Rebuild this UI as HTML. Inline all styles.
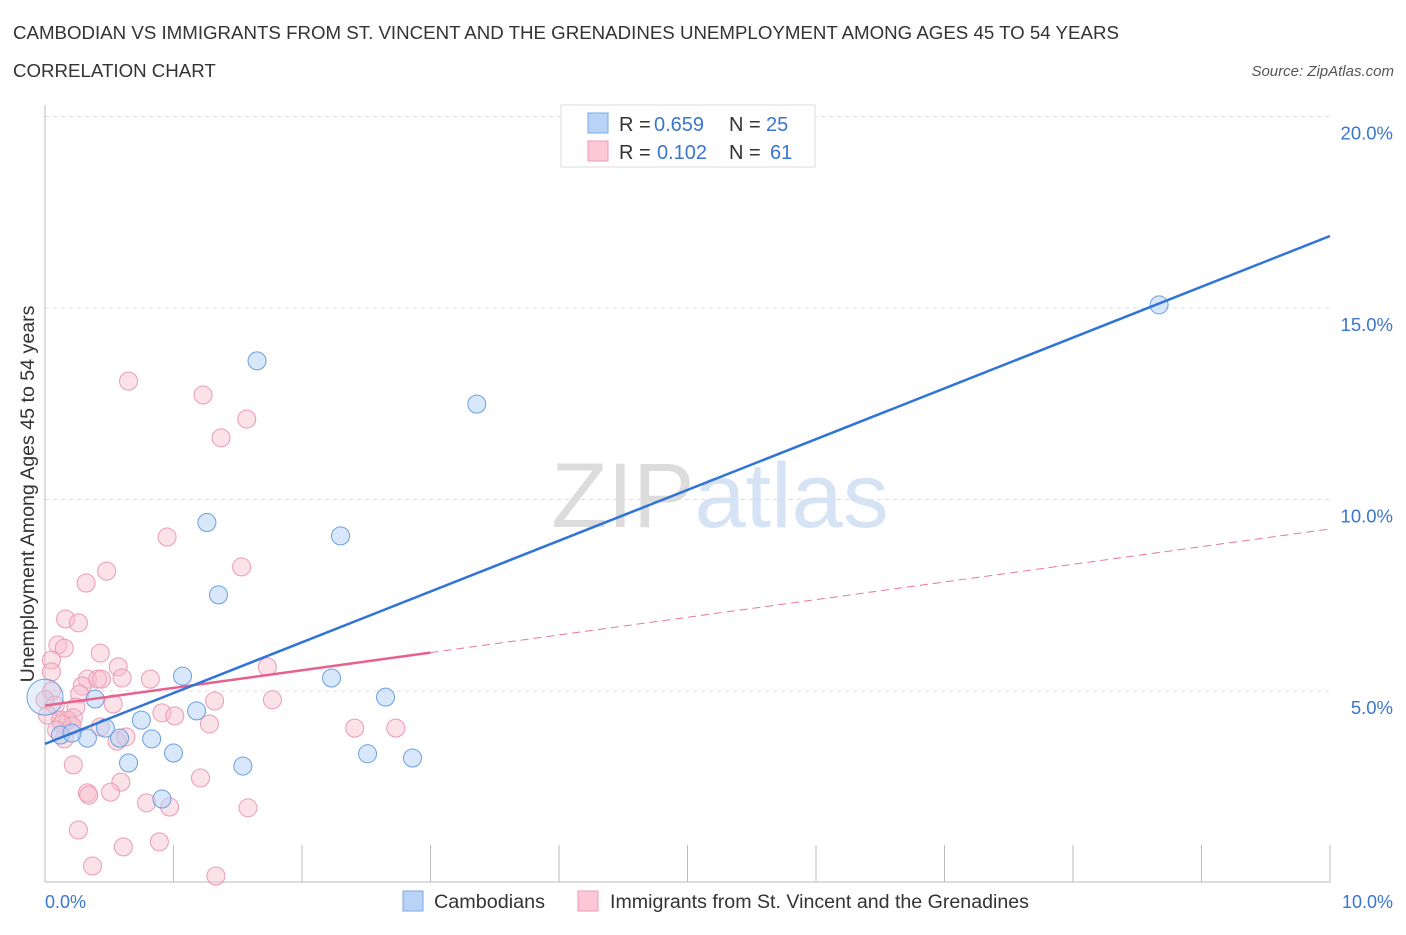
<!DOCTYPE html>
<html><head><meta charset="utf-8"><style>
body{margin:0;background:#fff;font-family:"Liberation Sans",sans-serif;}
svg text{font-family:"Liberation Sans",sans-serif;}
</style></head><body>
<svg id="chart" width="1406" height="930" viewBox="0 0 1406 930" xmlns="http://www.w3.org/2000/svg">
<text x="13" y="39" font-size="18.7" fill="#333">CAMBODIAN VS IMMIGRANTS FROM ST. VINCENT AND THE GRENADINES UNEMPLOYMENT AMONG AGES 45 TO 54 YEARS</text>
<text x="13" y="77" font-size="18.7" fill="#333">CORRELATION CHART</text>
<text x="1394" y="76" font-size="15" fill="#555" font-style="italic" text-anchor="end">Source: ZipAtlas.com</text>
<text x="720" y="527" font-size="92" text-anchor="middle" fill="#e4e4e4" font-family="Liberation Serif"><tspan fill="#dcdcdc">ZIP</tspan><tspan fill="#d5e3f5" font-family="Liberation Sans">atlas</tspan></text>
<g id="grid"></g>
<g id="axes"></g>
<g id="marks"></g>
<g id="lines"></g>
<text transform="translate(34,494) rotate(-90)" font-size="19.6" fill="#333" text-anchor="middle">Unemployment Among Ages 45 to 54 years</text>
<text x="45" y="908" font-size="18" fill="#3a75d0">0.0%</text>
<text x="1393" y="908" font-size="18" fill="#3a75d0" text-anchor="end">10.0%</text>
<g>
<rect x="561" y="105" width="254" height="62" fill="#fff" stroke="#ddd"/>
<rect x="588" y="113" width="20" height="20" fill="#b8d3f5" stroke="#7aa8e6"/>
<rect x="588" y="141" width="20" height="20" fill="#fcc8d7" stroke="#ee9ab4"/>
<text x="619" y="131" font-size="20" fill="#333">R = <tspan fill="#3a75d0" x="654">0.659</tspan><tspan x="729">N = </tspan><tspan fill="#3a75d0" x="766">25</tspan></text>
<text x="619" y="159" font-size="20" fill="#333">R = <tspan fill="#3a75d0" x="657">0.102</tspan><tspan x="729">N = </tspan><tspan fill="#3a75d0" x="770">61</tspan></text>
</g>
<g>
<rect x="403" y="891" width="20" height="20" fill="#b8d3f5" stroke="#7aa8e6"/>
<text x="434" y="908" font-size="19.8" fill="#333">Cambodians</text>
<rect x="578" y="891" width="20" height="20" fill="#fcc8d7" stroke="#ee9ab4"/>
<text x="610" y="908" font-size="19.6" fill="#333">Immigrants from St. Vincent and the Grenadines</text>
</g>
</svg>
<script>
const blueX=[8.67,1.65,3.36,1.26,2.30,1.35,1.07,2.23,2.65,0.39,0.0,0.75,0.47,1.18,0.12,0.33,0.58,0.83,1.00,2.86,2.51,0.65,1.54,0.91,0.21];
const blueY=[15.08,13.62,12.49,9.40,9.05,7.51,5.39,5.34,4.84,4.79,4.84,4.24,4.03,4.48,3.85,3.77,3.77,3.75,3.38,3.25,3.36,3.12,3.04,2.18,3.90];
const pinkX=[0.65,1.23,1.57,1.37,0.95,1.53,0.48,0.32,0.16,0.26,0.10,0.15,0.43,0.05,0.05,0.57,1.73,0.82,0.33,0.41,0.44,0.60,0.29,0.27,0.05,0.0,0.08,0.53,1.32,1.77,0.91,1.01,0.24,0.02,0.12,0.18,0.22,1.28,0.21,0.43,2.41,2.73,0.15,0.56,0.63,0.22,0.59,0.51,1.21,0.33,0.34,0.79,0.97,1.58,0.26,0.89,0.61,0.37,1.33,0.13,0.09];
const pinkY=[13.09,12.73,12.10,11.61,9.02,8.24,8.13,7.82,6.88,6.78,6.20,6.12,5.99,5.81,5.50,5.63,5.63,5.31,5.31,5.31,5.31,5.34,5.13,4.92,5.00,4.77,4.63,4.66,4.74,4.77,4.43,4.35,4.58,4.37,4.24,4.24,4.30,4.14,4.09,4.06,4.03,4.03,3.75,3.69,3.80,3.07,2.62,2.36,2.73,2.34,2.28,2.08,1.97,1.95,1.37,1.06,0.93,0.43,0.17,4.14,3.98];
const blueTrend=[3.62,16.88];
const pinkTrend=[4.62,9.23];
const pinkSolidEnd=3.0;
const yTicks=[5,10,15,20];
const yTickLabels=["5.0%","10.0%","15.0%","20.0%"];
const NS="http://www.w3.org/2000/svg";
const sx=v=>45+v*128.5, sy=v=>882.5-v*38.3;
function mk(tag,attrs,parent){const e=document.createElementNS(NS,tag);for(const k in attrs)e.setAttribute(k,attrs[k]);document.getElementById(parent).appendChild(e);return e;}
yTicks.forEach((t,i)=>{
 const g=mk('line',{x1:45,x2:1330,y1:sy(t),y2:sy(t),stroke:'#ddd','stroke-dasharray':'4,4'},'grid');
 
 
 const tx=mk('text',{x:1393,y:sy(t)+23,'font-size':18.5,fill:'#3a75d0','text-anchor':'end'},'grid');
 tx.textContent=yTickLabels[i];
 
 
});
const ax=mk('line',{x1:45,x2:45,y1:105,y2:882,stroke:'#bbb'},'axes');


const bx=mk('line',{x1:45,x2:1330,y1:882,y2:882,stroke:'#bbb'},'axes');


for(let i=0;i<=10;i++){
 const t=mk('line',{x1:sx(i),x2:sx(i),y1:845,y2:882,stroke:'#bbb'},'axes');
 
 
}
pinkX.forEach((x,i)=>{
 const c=mk('circle',{cx:sx(x),cy:sy(pinkY[i]),r:9,fill:'#f7bccd','fill-opacity':0.45,stroke:'#ec9ab4','stroke-width':1},'marks');
 
 
});
blueX.forEach((x,i)=>{
 const c=mk('circle',{cx:sx(x),cy:sy(blueY[i]),r:(i===10?18:9),fill:'#b8d3f5','fill-opacity':(i===10?0.35:0.55),stroke:'#6a9fe0','stroke-width':1},'marks');
 
 
});
const pl=x=>pinkTrend[0]+(pinkTrend[1]-pinkTrend[0])*x/10;
const pd=mk('line',{x1:sx(pinkSolidEnd),y1:sy(pl(pinkSolidEnd)),x2:sx(10),y2:sy(pl(10)),stroke:'#e8779b','stroke-width':1,'stroke-dasharray':'8,5'},'lines');


const ps=mk('line',{x1:sx(0),y1:sy(pl(0)),x2:sx(pinkSolidEnd),y2:sy(pl(pinkSolidEnd)),stroke:'#e8608c','stroke-width':2.5},'lines');


const bl=mk('line',{x1:sx(0),y1:sy(blueTrend[0]),x2:sx(10),y2:sy(blueTrend[1]),stroke:'#2f74d6','stroke-width':2.5},'lines');


</script>
</body></html>
